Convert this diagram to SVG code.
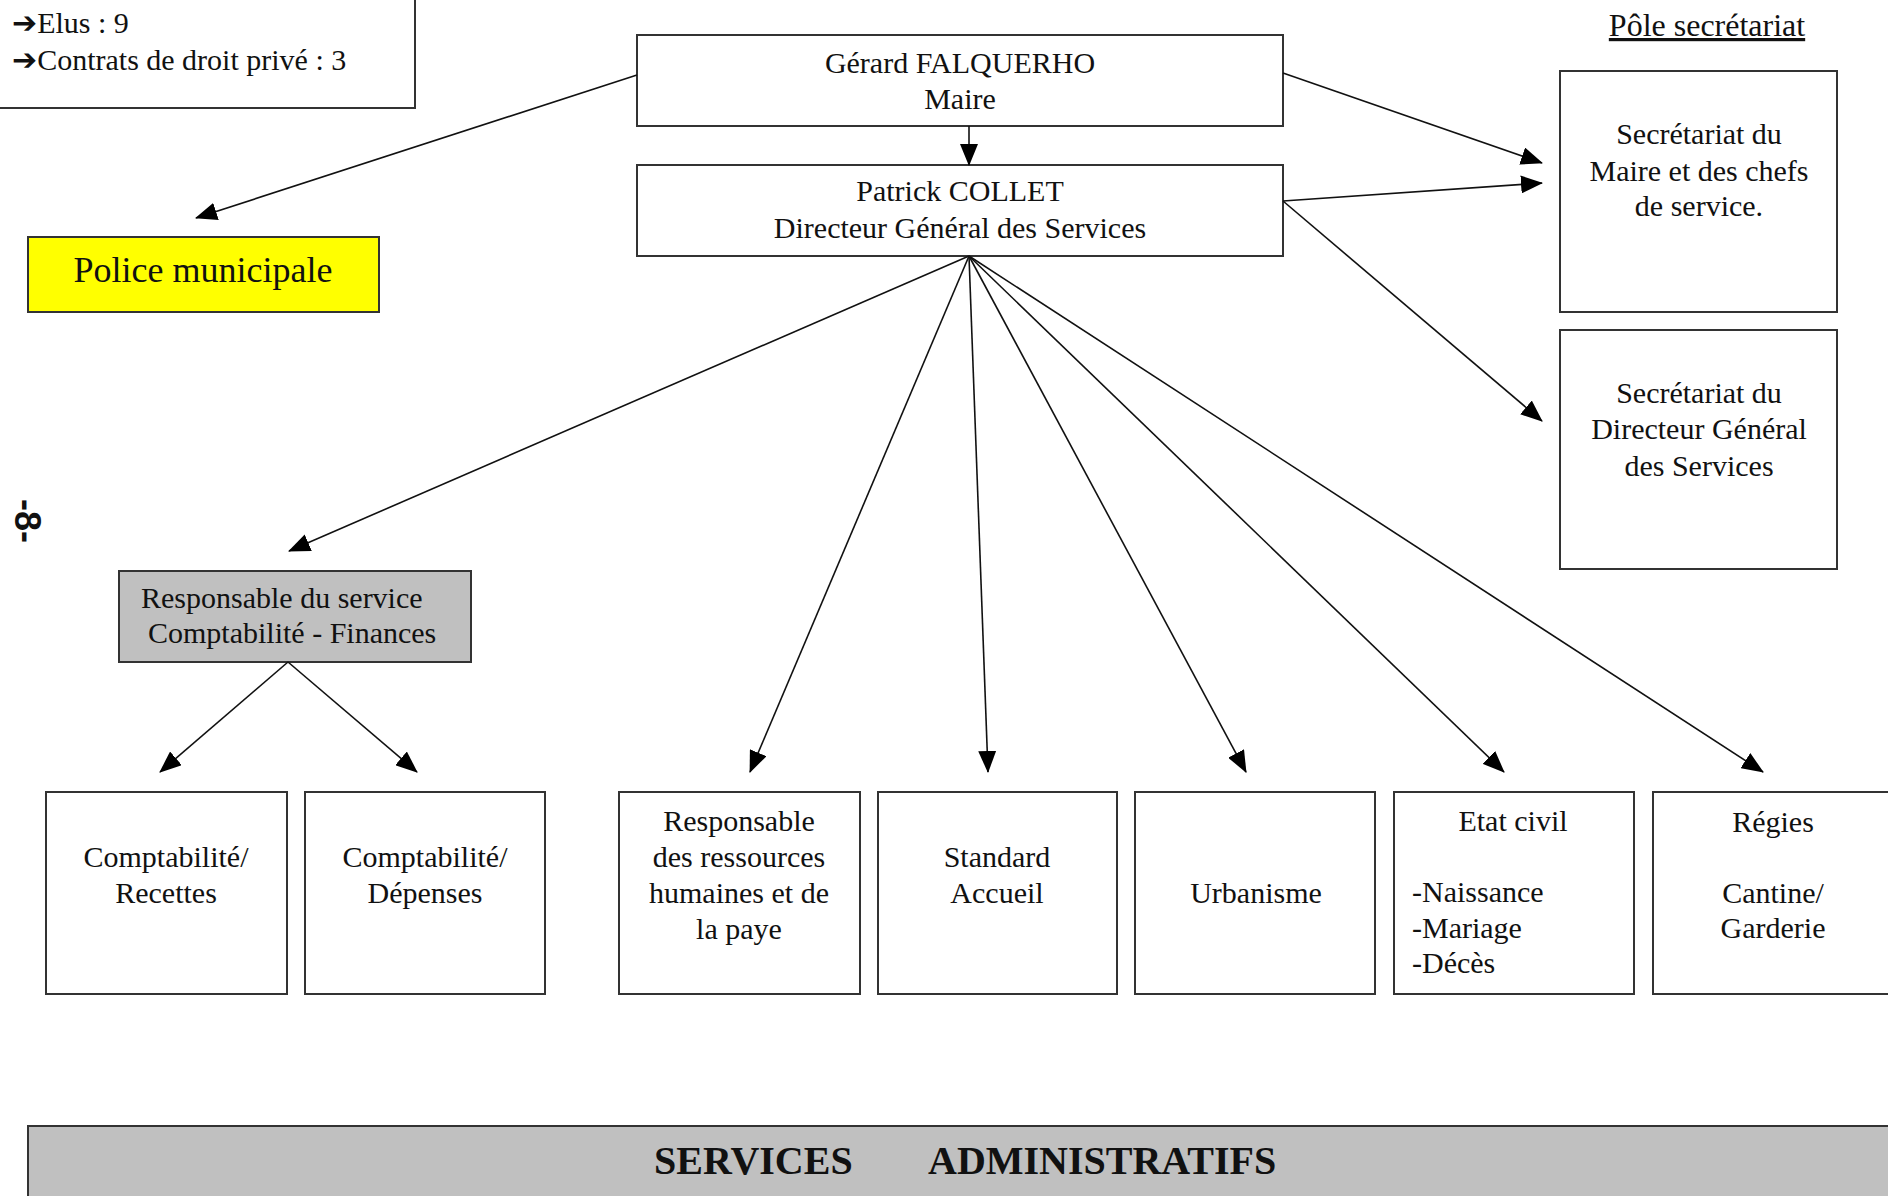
<svg xmlns="http://www.w3.org/2000/svg" width="1888" height="1196" viewBox="0 0 1888 1196">
<defs>
<marker id="ah" markerUnits="userSpaceOnUse" markerWidth="22" markerHeight="18" refX="21" refY="9" orient="auto">
<path d="M0,0 L22,9 L0,18 z" fill="#000"/>
</marker>
<style>
.box{fill:#fff;stroke:#333;stroke-width:2}
.t{font-family:"Liberation Serif","DejaVu Serif",serif;font-size:30px;fill:#111;text-anchor:middle}
.l{text-anchor:start}
.c{stroke:#111;stroke-width:1.6;fill:none;marker-end:url(#ah)}
</style>
</defs>
<rect width="1888" height="1196" fill="#fff"/>

<g id="effectifs">
<rect x="-4" y="-4" width="419" height="112" class="box"/>
<text class="t l" x="12" y="33"><tspan font-family="DejaVu Sans" font-size="30" font-weight="bold">➔</tspan>Elus : 9</text>
<text class="t l" x="12" y="70"><tspan font-family="DejaVu Sans" font-size="30" font-weight="bold">➔</tspan>Contrats de droit privé : 3</text>
</g>

<g id="page-num">
<text x="27" y="521" transform="rotate(90 27 521)" font-family="Liberation Sans,sans-serif" font-size="36" font-weight="bold" text-anchor="middle" dominant-baseline="central" fill="#111">-8-</text>
</g>

<g id="maire">
<rect x="637" y="35" width="646" height="91" class="box"/>
<text class="t" x="960" y="73">Gérard FALQUERHO</text>
<text class="t" x="960" y="109">Maire</text>
</g>

<g id="dgs">
<rect x="637" y="165" width="646" height="91" class="box"/>
<text class="t" x="960" y="201">Patrick COLLET</text>
<text class="t" x="960" y="238">Directeur Général des Services</text>
</g>

<g id="pole">
<text class="t" x="1707" y="36" style="font-size:32px" text-decoration="underline">Pôle secrétariat</text>
</g>

<g id="sec-maire">
<rect x="1560" y="71" width="277" height="241" class="box"/>
<text class="t" x="1699" y="144">Secrétariat du</text>
<text class="t" x="1699" y="181">Maire et des chefs</text>
<text class="t" x="1699" y="216">de service.</text>
</g>

<g id="sec-dgs">
<rect x="1560" y="330" width="277" height="239" class="box"/>
<text class="t" x="1699" y="403">Secrétariat du</text>
<text class="t" x="1699" y="439">Directeur Général</text>
<text class="t" x="1699" y="476">des Services</text>
</g>

<g id="police">
<rect x="28" y="237" width="351" height="75" fill="#ffff00" stroke="#333" stroke-width="2"/>
<text class="t" x="203" y="282" style="font-size:36px">Police municipale</text>
</g>

<g id="compta-finances">
<rect x="119" y="571" width="352" height="91" fill="#c0c0c0" stroke="#333" stroke-width="2"/>
<text class="t l" x="141" y="608">Responsable du service</text>
<text class="t l" x="148" y="643">Comptabilité - Finances</text>
</g>

<g id="recettes">
<rect x="46" y="792" width="241" height="202" class="box"/>
<text class="t" x="166" y="867">Comptabilité/</text>
<text class="t" x="166" y="903">Recettes</text>
</g>

<g id="depenses">
<rect x="305" y="792" width="240" height="202" class="box"/>
<text class="t" x="425" y="867">Comptabilité/</text>
<text class="t" x="425" y="903">Dépenses</text>
</g>

<g id="rh">
<rect x="619" y="792" width="241" height="202" class="box"/>
<text class="t" x="739" y="831">Responsable</text>
<text class="t" x="739" y="867">des ressources</text>
<text class="t" x="739" y="903">humaines et de</text>
<text class="t" x="739" y="939">la paye</text>
</g>

<g id="standard">
<rect x="878" y="792" width="239" height="202" class="box"/>
<text class="t" x="997" y="867">Standard</text>
<text class="t" x="997" y="903">Accueil</text>
</g>

<g id="urbanisme">
<rect x="1135" y="792" width="240" height="202" class="box"/>
<text class="t" x="1256" y="903">Urbanisme</text>
</g>

<g id="etat-civil">
<rect x="1394" y="792" width="240" height="202" class="box"/>
<text class="t" x="1513" y="831">Etat civil</text>
<text class="t l" x="1412" y="902">-Naissance</text>
<text class="t l" x="1412" y="938">-Mariage</text>
<text class="t l" x="1412" y="973">-Décès</text>
</g>

<g id="regies">
<rect x="1653" y="792" width="245" height="202" class="box"/>
<text class="t" x="1773" y="832">Régies</text>
<text class="t" x="1773" y="903">Cantine/</text>
<text class="t" x="1773" y="938">Garderie</text>
</g>

<g id="banner">
<rect x="28" y="1126" width="1870" height="80" fill="#c0c0c0" stroke="#333" stroke-width="2"/>
<text x="654" y="1174" font-family="Liberation Serif,serif" font-size="40" font-weight="bold" fill="#111">SERVICES</text>
<text x="928" y="1174" font-family="Liberation Serif,serif" font-size="40" font-weight="bold" fill="#111">ADMINISTRATIFS</text>
</g>

<g id="connectors">
<line class="c" x1="637" y1="75" x2="196" y2="218"/>
<line class="c" x1="969" y1="126" x2="969" y2="165"/>
<line class="c" x1="1283" y1="73" x2="1542" y2="163"/>
<line class="c" x1="1283" y1="201" x2="1542" y2="183"/>
<line class="c" x1="1283" y1="201" x2="1542" y2="421"/>
<line class="c" x1="969" y1="256" x2="289" y2="551"/>
<line class="c" x1="969" y1="256" x2="750" y2="772"/>
<line class="c" x1="969" y1="256" x2="988" y2="772"/>
<line class="c" x1="969" y1="256" x2="1246" y2="772"/>
<line class="c" x1="969" y1="256" x2="1504" y2="772"/>
<line class="c" x1="969" y1="256" x2="1763" y2="772"/>
<line class="c" x1="288" y1="662" x2="160" y2="772"/>
<line class="c" x1="288" y1="662" x2="417" y2="772"/>
</g>
</svg>
